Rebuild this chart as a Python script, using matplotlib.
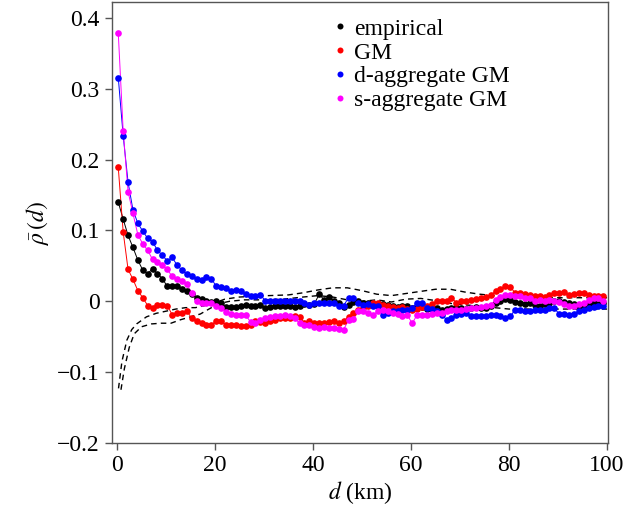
import numpy as np
import matplotlib
matplotlib.use('Agg')
import matplotlib.pyplot as plt

# distance bins (km)
d = np.arange(100) + 0.25

empirical = [0.140, 0.116, 0.093, 0.076, 0.058, 0.044, 0.039, 0.046, 0.039, 0.032,
             0.021, 0.022, 0.021, 0.018, 0.014, 0.010, 0.005, 0.003, 0.000, -0.001,
             0.001, -0.003, -0.008, -0.008, -0.008, -0.007, -0.005, -0.006, -0.006, -0.005,
             -0.009, -0.008, -0.007, -0.007, -0.007, -0.007, -0.008, -0.006, -0.004, -0.005,
             -0.004, 0.010, 0.002, 0.006, 0.000, -0.003, -0.008, -0.005, -0.001, 0.000,
             -0.002, -0.003, -0.005, -0.006, -0.004, -0.005, -0.006, -0.008, -0.007, -0.006,
             -0.009, -0.010, -0.008, -0.011, -0.009, -0.010, -0.012, -0.011, -0.009, -0.008,
             -0.010, -0.011, -0.009, -0.008, -0.010, -0.009, -0.006, -0.003, 0.000, 0.003,
             0.002, -0.001, -0.002, -0.004, -0.003, -0.005, -0.006, -0.004, -0.002, 0.000,
             0.000, -0.001, -0.003, -0.004, -0.006, -0.005, -0.004, -0.003, -0.004, -0.003]

gm = [0.189, 0.098, 0.045, 0.031, 0.015, 0.005, -0.006, -0.009, -0.005, -0.005,
      -0.006, -0.019, -0.017, -0.017, -0.014, -0.024, -0.028, -0.031, -0.033, -0.033,
      -0.028, -0.028, -0.033, -0.034, -0.034, -0.035, -0.035, -0.033, -0.028, -0.029,
      -0.031, -0.028, -0.027, -0.024, -0.023, -0.023, -0.021, -0.022, -0.031, -0.028,
      -0.030, -0.031, -0.031, -0.029, -0.028, -0.031, -0.028, -0.022, -0.016, -0.013,
      -0.010, -0.006, -0.003, -0.002, -0.005, -0.007, -0.008, -0.009, -0.008, -0.011,
      -0.012, -0.011, -0.008, -0.006, -0.004, 0.000, 0.000, 0.000, 0.005, -0.002,
      0.000, 0.001, 0.002, 0.003, 0.004, 0.006, 0.009, 0.014, 0.017, 0.021,
      0.020, 0.012, 0.012, 0.010, 0.009, 0.008, 0.007, 0.006, 0.009, 0.012,
      0.012, 0.013, 0.009, 0.010, 0.012, 0.012, 0.009, 0.008, 0.008, 0.007]

d_agg = [0.316, 0.234, 0.168, 0.129, 0.110, 0.099, 0.089, 0.084, 0.072, 0.065,
         0.057, 0.062, 0.051, 0.044, 0.038, 0.036, 0.031, 0.030, 0.034, 0.032,
         0.021, 0.020, 0.019, 0.015, 0.016, 0.015, 0.010, 0.007, 0.007, 0.009,
         0.001, 0.001, 0.001, 0.001, 0.001, 0.000, 0.000, 0.001, -0.002, -0.005,
         -0.002, -0.002, -0.002, -0.003, -0.002, -0.006, -0.006, 0.005, 0.005, -0.002,
         -0.005, -0.004, -0.007, -0.007, -0.019, -0.017, -0.014, -0.014, -0.012, -0.012,
         -0.009, -0.002, -0.002, -0.009, -0.011, -0.014, -0.019, -0.026, -0.024, -0.020,
         -0.018, -0.017, -0.021, -0.021, -0.021, -0.021, -0.019, -0.019, -0.021, -0.023,
         -0.021, -0.012, -0.013, -0.014, -0.014, -0.013, -0.013, -0.012, -0.009, -0.010,
         -0.018, -0.018, -0.019, -0.018, -0.014, -0.012, -0.009, -0.008, -0.006, -0.006]

s_agg = [0.379, 0.241, 0.155, 0.124, 0.094, 0.081, 0.072, 0.059, 0.056, 0.051,
         0.045, 0.035, 0.031, 0.028, 0.024, 0.012, 0.001, -0.002, -0.003, -0.003,
         -0.007, -0.009, -0.015, -0.018, -0.020, -0.019, -0.020, -0.029, -0.031, -0.026,
         -0.024, -0.022, -0.021, -0.021, -0.019, -0.021, -0.024, -0.031, -0.033, -0.034,
         -0.036, -0.038, -0.037, -0.038, -0.038, -0.039, -0.040, -0.026, -0.025, -0.014,
         -0.014, -0.017, -0.019, -0.014, -0.013, -0.014, -0.017, -0.018, -0.021, -0.020,
         -0.031, -0.019, -0.020, -0.019, -0.018, -0.017, -0.016, -0.014, -0.012, -0.013,
         -0.012, -0.011, -0.010, -0.009, -0.008, -0.007, -0.005, 0.002, 0.006, 0.009,
         0.009, 0.007, 0.007, 0.005, 0.004, 0.001, 0.002, 0.000, 0.002, 0.001,
         -0.001, -0.004, -0.007, -0.007, -0.004, -0.003, 0.002, 0.005, 0.004, 0.001]

# envelope (dashed)
d_up = [0.3, 1, 2, 3, 4, 6, 8, 10, 12, 14, 16, 18, 20, 22, 25, 28, 31, 35, 38, 41,
        44, 47, 50, 53, 56, 59, 62, 65, 68, 71, 74, 77, 80, 85, 90, 95, 100]
env_up = [-0.123, -0.085, -0.055, -0.040, -0.032, -0.022, -0.017, -0.014, -0.011, -0.009,
          -0.009, -0.006, -0.002, 0.003, 0.006, 0.007, 0.008, 0.009, 0.012, 0.016,
          0.019, 0.019, 0.015, 0.010, 0.008, 0.011, 0.014, 0.017, 0.017, 0.013,
          0.010, 0.008, 0.006, 0.006, 0.005, 0.005, 0.005]
d_lo = [0.8, 1.5, 2.5, 3.5, 5, 7, 9, 11, 13, 15, 17, 19, 21, 23, 26, 30, 34, 38, 41,
        44, 47, 50, 53, 56, 59, 62, 65, 68, 71, 74, 77, 80, 85, 90, 95, 100]
env_lo = [-0.125, -0.095, -0.065, -0.046, -0.036, -0.032, -0.031, -0.031, -0.026, -0.022,
          -0.018, -0.010, -0.003, 0.000, 0.002, 0.002, 0.003, 0.006, 0.008, 0.006,
          0.002, 0.000, 0.002, -0.001, 0.003, 0.004, 0.001, -0.003, -0.005, -0.007,
          -0.009, -0.011, -0.011, -0.011, -0.011, -0.011]

plt.rcParams['font.family'] = 'Liberation Serif'
plt.rcParams['mathtext.fontset'] = 'stix'

fig = plt.figure(figsize=(6.23, 5.12), dpi=100)
ax = fig.add_axes([0.180, 0.135, 0.796, 0.861])

ax.plot(d_up, env_up, color='black', lw=1, dashes=(4, 3), zorder=1)
ax.plot(d_lo, env_lo, color='black', lw=1, dashes=(4, 3), zorder=1)

series = [(empirical, 'black', 'empirical'),
          (gm, 'red', 'GM'),
          (d_agg, 'blue', 'd-aggregate GM'),
          (s_agg, 'magenta', 's-aggregate GM')]
for vals, col, lab in series:
    ax.plot(d, vals, color=col, lw=0.7, zorder=2)
    ax.plot(d, vals, 'o', color=col, ms=4.8, mec='none', label=lab, zorder=3)

ax.set_xlim(-1, 100.2)
ax.set_ylim(-0.2, 0.4226)
ax.set_xticks([0, 20, 40, 60, 80, 100])
ax.set_yticks([-0.2, -0.1, 0, 0.1, 0.2, 0.3, 0.4])
ax.set_yticklabels(['\u22120.2', '\u22120.1', '0', '0.1', '0.2', '0.3', '0.4'])

for s in ax.spines.values():
    s.set_color('#555555')
    s.set_linewidth(1)
ax.tick_params(direction='out', length=5, width=1, color='#555555',
               labelsize=17, pad=4)

ax.set_xlabel('$d$ (km)', fontsize=17, labelpad=2)
ax.set_ylabel(r'$\bar{\rho}\,(d)$', fontsize=17, labelpad=4)

ax.legend(loc='upper left', bbox_to_anchor=(0.43, 0.985), frameon=False,
          fontsize=17, handlelength=0.4, handletextpad=0.4, labelspacing=0.1,
          markerscale=0.9, borderaxespad=0)

fig.savefig('out.png', dpi=100)
